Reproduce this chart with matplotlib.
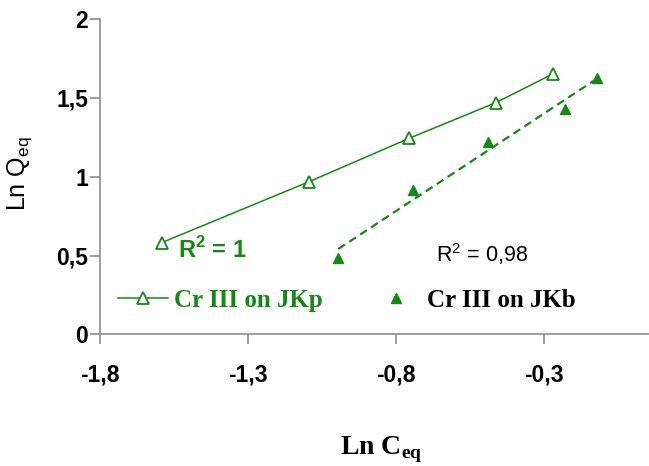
import numpy as np
import matplotlib
matplotlib.use("Agg")
import matplotlib.pyplot as plt
from matplotlib.ticker import FuncFormatter

# Data
jkp_x = [-1.592, -1.093, -0.755, -0.462, -0.271]
jkp_y = [0.582, 0.969, 1.244, 1.470, 1.651]
jkb_x = [-0.995, -0.742, -0.488, -0.229, -0.122]
jkb_y = [0.483, 0.916, 1.222, 1.428, 1.624]
x_ticks = [-1.8, -1.3, -0.8, -0.3]
y_ticks = [0, 0.5, 1, 1.5, 2]
label_p = "Cr III on JKp"
label_b = "Cr III on JKb"
r2_p = "R$^{\\mathregular{2}}$ = 1"
r2_b = "R$^{\\mathregular{2}}$ = 0,98"

green = "#128a12"
gray = "#8c8c8c"

fig = plt.figure(figsize=(6.49, 4.66), dpi=100)
ax = fig.add_axes([0.1541, 0.2822, 0.8459, 0.677])

ax.plot(jkp_x, jkp_y, color=green, lw=1.1, marker="^", ms=8.5,
        mfc="white", mec=green, mew=1.3, label=label_p, zorder=3)
ax.plot(jkb_x, jkb_y, ls="none", marker="^", ms=7.5, color=green,
        label=label_b, zorder=3)

coef = np.polyfit(jkb_x, jkb_y, 1)
fx = np.array([min(jkb_x), max(jkb_x)])
ax.plot(fx, np.polyval(coef, fx), color=green, lw=1.6, ls=(0, (3.6, 2.3)), zorder=2)

ax.set_xlim(-1.8, 0.055)
ax.set_ylim(0, 2)
ax.set_xticks(x_ticks)
ax.set_yticks(y_ticks)
fmt = FuncFormatter(lambda v, p: ("%g" % v).replace(".", ","))
ax.xaxis.set_major_formatter(fmt)
ax.yaxis.set_major_formatter(fmt)

for s in ["top", "right"]:
    ax.spines[s].set_visible(False)
for s in ["left", "bottom"]:
    ax.spines[s].set_color(gray)
    ax.spines[s].set_linewidth(1.2)
ax.tick_params(direction="out", length=7, width=1.2, color=gray, labelsize=16.5)
ax.tick_params(axis="y", pad=1.5)
ax.tick_params(axis="x", pad=14)
for lab in ax.get_xticklabels() + ax.get_yticklabels():
    lab.set_fontfamily("Liberation Sans")
    lab.set_fontweight("bold")

ax.text(0.205, 0.267, r2_p, transform=ax.transAxes, color=green, fontsize=17,
        fontweight="bold", family="Liberation Sans", ha="center", va="center")
ax.text(0.695, 0.255, r2_b, transform=ax.transAxes, color="black", fontsize=15.5,
        family="Liberation Sans", ha="center", va="center")

ax.set_ylabel("Ln Q$_{\\mathregular{eq}}$", family="Liberation Sans", fontsize=18)
ax.yaxis.set_label_coords(-0.12, 0.509)
ax.set_xlabel("Ln C$_{\\mathregular{eq}}$", family="Liberation Serif",
              fontsize=20, fontweight="bold")
ax.xaxis.set_label_coords(0.513, -0.318)

leg = ax.legend(loc="center left", bbox_to_anchor=(0.0328, 0.109), ncol=2,
                frameon=False, prop={"family": "Liberation Serif",
                                     "weight": "bold", "size": 18},
                columnspacing=1.9, handlelength=2.0, handletextpad=0.25,
                borderaxespad=0, borderpad=0)
txts = leg.get_texts()
txts[0].set_color(green)
txts[1].set_color("black")

fig.savefig("out.png", dpi=100)
